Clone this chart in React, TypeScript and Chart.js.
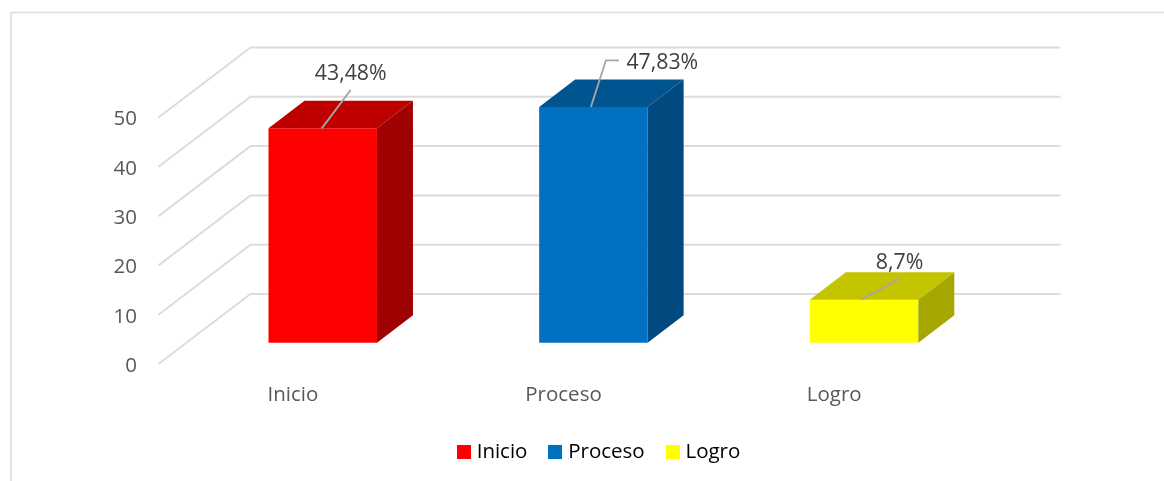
import React, { useEffect, useRef } from "react";
import { Chart, registerables } from "chart.js";

Chart.register(...registerables);

const categories = ["Inicio", "Proceso", "Logro"];
const porcentajes = [43.48, 47.83, 8.7];
const yTickStep = 10;
const yMax = 50;

const frontColors = ["#ff0000", "#0070c0", "#ffff00"];
const topColors = ["#bf0000", "#005490", "#c4c400"];
const sideColors = ["#9f0000", "#004a80", "#a6a600"];

const FONT = "'Open Sans', sans-serif";
const GRID = "#dcdcdc";
const GRID_SHIFT_X = 1;
const GRID_SHIFT_Y = -2;
const WALL_DX = 92;
const WALL_DY = -70;
const BAR_SHIFT_X = 29.9;
const BAR_SHIFT_Y = -23.3;
const BAR_DX = 36;
const BAR_DY = -27.5;

// leader line and label placement, relative to the top-centre of each shifted bar
const leaders = [
  { pts: [[-1, 0], [28, -38.5]], tx: 28, ty: -54.5, align: "center" },
  { pts: [[-2.5, 0], [12.5, -46.5], [25.5, -46.5]], tx: 33, ty: -43.5, align: "left" },
  { pts: [[-3, 0], [35.3, -21]], tx: 35.5, ty: -36.5, align: "center" },
];

function legendSwatch(color: string) {
  const c = document.createElement("canvas");
  c.width = 14;
  c.height = 14;
  const g = c.getContext("2d")!;
  g.fillStyle = color;
  g.fillRect(0, 0, 14, 14);
  return c;
}

const box3d = {
  id: "box3d",
  afterLayout(chart: any) {
    const l = chart.legend;
    l.left += 116.1;
    l.right += 116.1;
    l.top += 3;
    l.bottom += 3;
  },
  beforeDatasetsDraw(chart: any) {
    const { ctx, chartArea, scales } = chart;
    ctx.save();
    ctx.strokeStyle = GRID;
    ctx.lineWidth = 1.5;
    ctx.strokeRect(11, 12.5, 1300, 700);
    ctx.lineWidth = 2;
    for (const t of scales.y.ticks) {
      const y = scales.y.getPixelForValue(t.value) + GRID_SHIFT_Y;
      const left = chartArea.left + GRID_SHIFT_X;
      ctx.beginPath();
      ctx.moveTo(left, y);
      ctx.lineTo(left + WALL_DX, y + WALL_DY);
      ctx.lineTo(chartArea.right + WALL_DX - 1, y + WALL_DY);
      ctx.stroke();
    }
    ctx.restore();
    ctx.save();
    ctx.translate(BAR_SHIFT_X, BAR_SHIFT_Y);
  },
  afterDatasetsDraw(chart: any) {
    const { ctx } = chart;
    const bars = chart.getDatasetMeta(0).data;
    bars.forEach((b: any, i: number) => {
      const l = b.x - b.width / 2;
      const r = b.x + b.width / 2;
      ctx.fillStyle = topColors[i];
      ctx.beginPath();
      ctx.moveTo(l, b.y);
      ctx.lineTo(l + BAR_DX, b.y + BAR_DY);
      ctx.lineTo(r + BAR_DX, b.y + BAR_DY);
      ctx.lineTo(r, b.y);
      ctx.closePath();
      ctx.fill();
      ctx.fillStyle = sideColors[i];
      ctx.beginPath();
      ctx.moveTo(r, b.y);
      ctx.lineTo(r + BAR_DX, b.y + BAR_DY);
      ctx.lineTo(r + BAR_DX, b.base + BAR_DY);
      ctx.lineTo(r, b.base);
      ctx.closePath();
      ctx.fill();
    });
    bars.forEach((b: any, i: number) => {
      const d = leaders[i];
      ctx.strokeStyle = "#a6a6a6";
      ctx.lineWidth = 1.8;
      ctx.beginPath();
      d.pts.forEach((p, k) => {
        if (k === 0) ctx.moveTo(b.x + p[0], b.y + p[1]);
        else ctx.lineTo(b.x + p[0], b.y + p[1]);
      });
      ctx.stroke();
      ctx.fillStyle = "#404040";
      ctx.font = `21.3px ${FONT}`;
      ctx.textAlign = d.align;
      ctx.textBaseline = "middle";
      ctx.fillText(String(porcentajes[i]).replace(".", ",") + "%", b.x + d.tx, b.y + d.ty);
    });
    ctx.restore();
  },
};

export default function App() {
  const ref = useRef<HTMLCanvasElement>(null);
  useEffect(() => {
    const chart = new Chart(ref.current!, {
      type: "bar",
      data: {
        labels: categories,
        datasets: [
          {
            data: porcentajes,
            backgroundColor: frontColors,
            barPercentage: 1,
            categoryPercentage: 0.4007,
            clip: false,
          } as any,
        ],
      },
      plugins: [box3d],
      options: {
        responsive: false,
        animation: false,
        layout: { padding: { left: 0, right: 194.5, top: 119.5, bottom: 12 } },
        scales: {
          x: {
            grid: { display: false },
            border: { display: false },
            afterFit: (s: any) => {
              s.height = 47;
            },
            ticks: {
              color: "#595959",
              font: { family: FONT, size: 20.5 },
              padding: 9,
              maxRotation: 0,
              autoSkip: false,
            },
          },
          y: {
            min: 0,
            max: yMax,
            grid: { display: false },
            border: { display: false },
            afterFit: (s: any) => {
              s.width = 157.5;
            },
            ticks: {
              stepSize: yTickStep,
              color: "#595959",
              font: { family: FONT, size: 20.5 },
              padding: 12.5,
            },
          },
        },
        plugins: {
          tooltip: { enabled: false },
          legend: {
            position: "bottom",
            labels: {
              usePointStyle: true,
              pointStyleWidth: 5,
              boxHeight: 14,
              padding: 25.5,
              color: "#595959",
              font: { family: FONT, size: 20.5 },
              generateLabels: () =>
                categories.map((c, i) => ({
                  text: c,
                  pointStyle: legendSwatch(frontColors[i]),
                  fillStyle: frontColors[i],
                  strokeStyle: frontColors[i],
                  lineWidth: 0,
                  hidden: false,
                  index: i,
                })),
            },
          },
        },
      } as any,
    });
    return () => chart.destroy();
  }, []);
  return (
    <canvas
      ref={ref}
      width={1164}
      height={481}
      style={{ position: "absolute", left: 0, top: 0, display: "block" }}
    />
  );
}
